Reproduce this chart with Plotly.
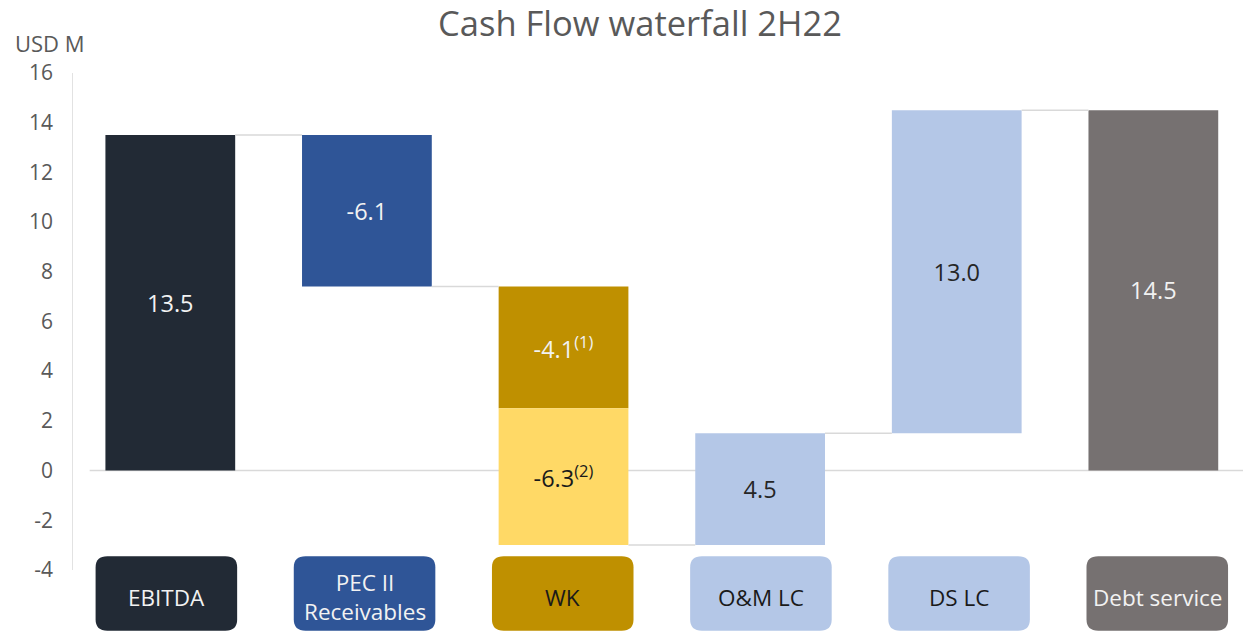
import plotly.graph_objects as go

# ---- data ----
categories = ["EBITDA", "PEC II<br>Receivables", "WK", "O&M LC", "DS LC", "Debt service"]
# waterfall steps (bar heights as drawn); WK is split into two stacked parts
step_names = ["EBITDA", "PEC II Receivables", "WK (1)", "WK (2)", "O&M LC", "DS LC"]
step_cat = [0, 1, 2, 2, 3, 4]
step_values = [13.5, -6.1, -4.9, -5.5, 4.5, 13.0]
step_labels = ["13.5", "-6.1", "-4.1<sup>(1)</sup>", "-6.3<sup>(2)</sup>", "4.5", "13.0"]
total_value = 14.5
total_label = "14.5"
total_cat = 5
y_ticks = [16, 14, 12, 10, 8, 6, 4, 2, 0, -2, -4]
y_tick_text = ["16", "14", "12", "10", "8", "6", "4", "2", "0", "-2", "-4"]

step_colors = ["#222a35", "#2f5597", "#bf9000", "#ffd966", "#b4c7e7", "#b4c7e7"]
step_text_colors = ["#f2f2f2", "#f2f2f2", "#f2f2f2", "#1a1a1a", "#262626", "#262626"]
total_color = "#767171"
box_colors = ["#222a35", "#2f5597", "#bf9000", "#b4c7e7", "#b4c7e7", "#767171"]
box_text_colors = ["#f2f2f2", "#f2f2f2", "#1a1a1a", "#1a1a1a", "#1a1a1a", "#f2f2f2"]

FONT = "Open Sans"
BAR_W = 0.66

fig = go.Figure()

# compute bases
bases = []
run = 0.0
for v in step_values:
    bases.append(run)
    run += v

for i in range(len(step_values)):
    fig.add_trace(go.Bar(
        x=[step_cat[i]], y=[step_values[i]], base=[bases[i]], width=BAR_W,
        marker=dict(color=step_colors[i], line=dict(width=0)),
        text=[step_labels[i]], textposition="inside", insidetextanchor="middle",
        textangle=0, constraintext="none",
        textfont=dict(family=FONT, size=23.5, color=step_text_colors[i]),
        name=step_names[i], showlegend=False, hoverinfo="skip"))

fig.add_trace(go.Bar(
    x=[total_cat], y=[total_value], base=[0], width=BAR_W,
    marker=dict(color=total_color, line=dict(width=0)),
    text=[total_label], textposition="inside", insidetextanchor="middle",
    textangle=0, constraintext="none",
    textfont=dict(family=FONT, size=23.5, color="#f2f2f2"),
    showlegend=False, hoverinfo="skip"))

# connector lines
cat_end = {}
run = 0.0
for i, v in enumerate(step_values):
    run += v
    cat_end[step_cat[i]] = run
cx, cy = [], []
for c in range(total_cat):
    lvl = cat_end[c]
    cx += [c + BAR_W / 2, c + 1 - BAR_W / 2, None]
    cy += [lvl, lvl, None]
fig.add_trace(go.Scatter(x=cx, y=cy, mode="lines",
                         line=dict(color="#d9d9d9", width=1.5),
                         showlegend=False, hoverinfo="skip"))

# zero line and y axis line
fig.add_shape(type="line", x0=-0.41, x1=5.5, y0=0, y1=0,
              line=dict(color="#d9d9d9", width=1.5), layer="below")
fig.add_shape(type="line", x0=-0.5, x1=-0.5, y0=-4, y1=16,
              line=dict(color="#d9d9d9", width=1.5), layer="below")

# category label boxes (rounded)
def rounded_rect(x0, x1, y0, y1, rx, ry):
    return (f"M {x0+rx},{y0} L {x1-rx},{y0} Q {x1},{y0} {x1},{y0+ry} "
            f"L {x1},{y1-ry} Q {x1},{y1} {x1-rx},{y1} L {x0+rx},{y1} "
            f"Q {x0},{y1} {x0},{y1-ry} L {x0},{y0+ry} Q {x0},{y0} {x0+rx},{y0} Z")

BOX_W = 0.72
BOX_STEP = 1.008
for i, cat in enumerate(categories):
    cxm = i * BOX_STEP - 0.02
    fig.add_shape(type="path",
                  path=rounded_rect(cxm - BOX_W / 2, cxm + BOX_W / 2, -6.45, -3.45, 0.06, 0.45),
                  fillcolor=box_colors[i], line=dict(width=0), layer="above")
    fig.add_annotation(x=cxm, y=-5.1, text=cat, showarrow=False,
                       font=dict(family=FONT, size=22.5, color=box_text_colors[i]),
                       xanchor="center", yanchor="middle")

fig.add_annotation(xref="paper", yref="paper", x=-0.0504, y=1.0297, text="USD M",
                   showarrow=False, xanchor="left", yanchor="middle",
                   font=dict(family=FONT, size=22, color="#595959"))

fig.update_layout(
    width=1243, height=636,
    margin=dict(l=72, r=0, t=60, b=4),
    paper_bgcolor="white", plot_bgcolor="white",
    title=dict(text="Cash Flow waterfall 2H22", x=0.5149, xanchor="center",
               y=0.9623, yanchor="middle",
               font=dict(family=FONT, size=34.5, color="#595959")),
    barmode="overlay",
    xaxis=dict(range=[-0.5, 5.456], showticklabels=False, showgrid=False,
               zeroline=False, showline=False, fixedrange=True, automargin=False),
    yaxis=dict(range=[-6.5, 16.52], tickvals=y_ticks, ticktext=y_tick_text,
               showgrid=False, zeroline=False, showline=False, ticks="",
               automargin=False,
               tickfont=dict(family=FONT, size=21, color="#595959"),
               ticklabelstandoff=18),
)

# remove the default page margin so the figure fills the window exactly
fig.write_html("out.html", config={"displayModeBar": False},
               post_script="document.body.style.margin='0';")
